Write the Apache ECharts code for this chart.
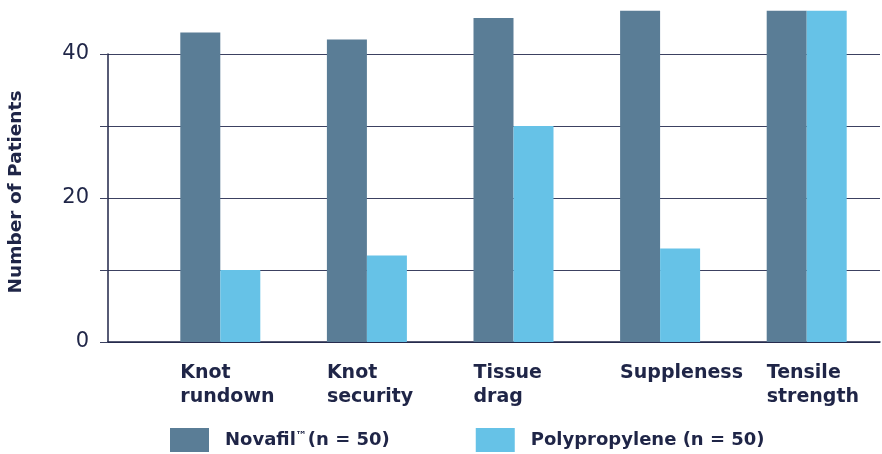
<!DOCTYPE html>
<html>
<head>
<meta charset="utf-8">
<script src="https://cdn.jsdelivr.net/npm/echarts@6/dist/echarts.min.js"></script>
<style>
html,body{margin:0;padding:0;background:#fff;overflow:hidden;width:882px;height:454px;position:relative;}
#chart{position:absolute;left:0;top:-18px;width:882px;height:472px;}
</style>
</head>
<body>
<div id="chart"></div>
<script>
const categories = ['Knot\nrundown', 'Knot\nsecurity', 'Tissue\ndrag', 'Suppleness', 'Tensile\nstrength'];
const novafil = [43, 42, 45, 46, 46];
const polypropylene = [10, 12, 30, 13, 46];
const yTickLabels = [0, 20, 40];
const seriesNames = ['Novafil™(n = 50)', 'Polypropylene (n = 50)'];

const navy = '#1f2547';
const gridColor = '#3c4161';
const font = '"DejaVu Sans", sans-serif';

// chart is shifted up by 18px so that the value 50 sits just above the visible area
const chart = echarts.init(document.getElementById('chart'), null, {renderer: 'canvas'});
const option = {
  animation: false,
  backgroundColor: '#fff',
  textStyle: {fontFamily: font},
  grid: [
    {left: 108, right: 2, top: 72, bottom: 112},
    {left: 147, right: 2, top: 0, bottom: 112},
    {left: 107, right: 42, top: 0, bottom: 112}
  ],
  xAxis: [
    {gridIndex: 0, type: 'value', min: 0, max: 1,
      axisLine: {show: true, onZero: false, lineStyle: {color: navy, width: 1.5}},
      axisTick: {show: false}, axisLabel: {show: false}, splitLine: {show: false}},
    {gridIndex: 1, type: 'category', data: categories,
      axisLine: {show: false}, axisTick: {show: false}, axisLabel: {show: false}},
    {gridIndex: 2, type: 'category', data: categories,
      axisLine: {show: false}, axisTick: {show: false},
      axisLabel: {interval: 0, align: 'left', margin: 19, fontSize: 19, lineHeight: 24,
        fontWeight: 'bold', color: navy, fontFamily: font}}
  ],
  yAxis: [
    {gridIndex: 0, type: 'value', min: 0, max: 40, interval: 10,
      axisLine: {show: true, lineStyle: {color: navy, width: 1.5}},
      axisTick: {show: true, length: 8, lineStyle: {color: gridColor, width: 1}},
      axisLabel: {formatter: v => yTickLabels.includes(v) ? String(v) : '',
        margin: 19, fontSize: 21, color: navy, fontFamily: font},
      splitLine: {show: true, lineStyle: {color: gridColor, width: 1}}},
    {gridIndex: 1, type: 'value', min: 0, max: 50, show: false, splitLine: {show: false}},
    {gridIndex: 2, type: 'value', min: 0, max: 50, show: false, splitLine: {show: false}}
  ],
  legend: {
    left: 170, top: 446, padding: 0, itemWidth: 39, itemHeight: 24, itemGap: 86,
    icon: 'rect',
    data: seriesNames,
    formatter: name => name.replace('™', '{sup|™}'),
    textStyle: {fontSize: 18, fontWeight: 'bold', color: navy, fontFamily: font,
      padding: [0, 0, 0, 11],
      rich: {sup: {fontSize: 11, fontWeight: 'bold', color: navy, verticalAlign: 'top', padding: [0, 1, 8, 0]}}}
  },
  graphic: [{
    type: 'text', x: 16, y: 210, rotation: Math.PI / 2,
    style: {text: 'Number of Patients', fill: navy, font: 'bold 18.5px ' + font,
      textAlign: 'center', textVerticalAlign: 'middle'}
  }],
  series: [
    {name: seriesNames[0], type: 'bar', xAxisIndex: 1, yAxisIndex: 1, data: novafil,
      barWidth: 40, barGap: '0%', itemStyle: {color: '#5a7d96'}},
    {name: seriesNames[1], type: 'bar', xAxisIndex: 1, yAxisIndex: 1, data: polypropylene,
      barWidth: 40, barGap: '0%', itemStyle: {color: '#66c2e7'}}
  ]
};
chart.setOption(option);
</script>
</body>
</html>
